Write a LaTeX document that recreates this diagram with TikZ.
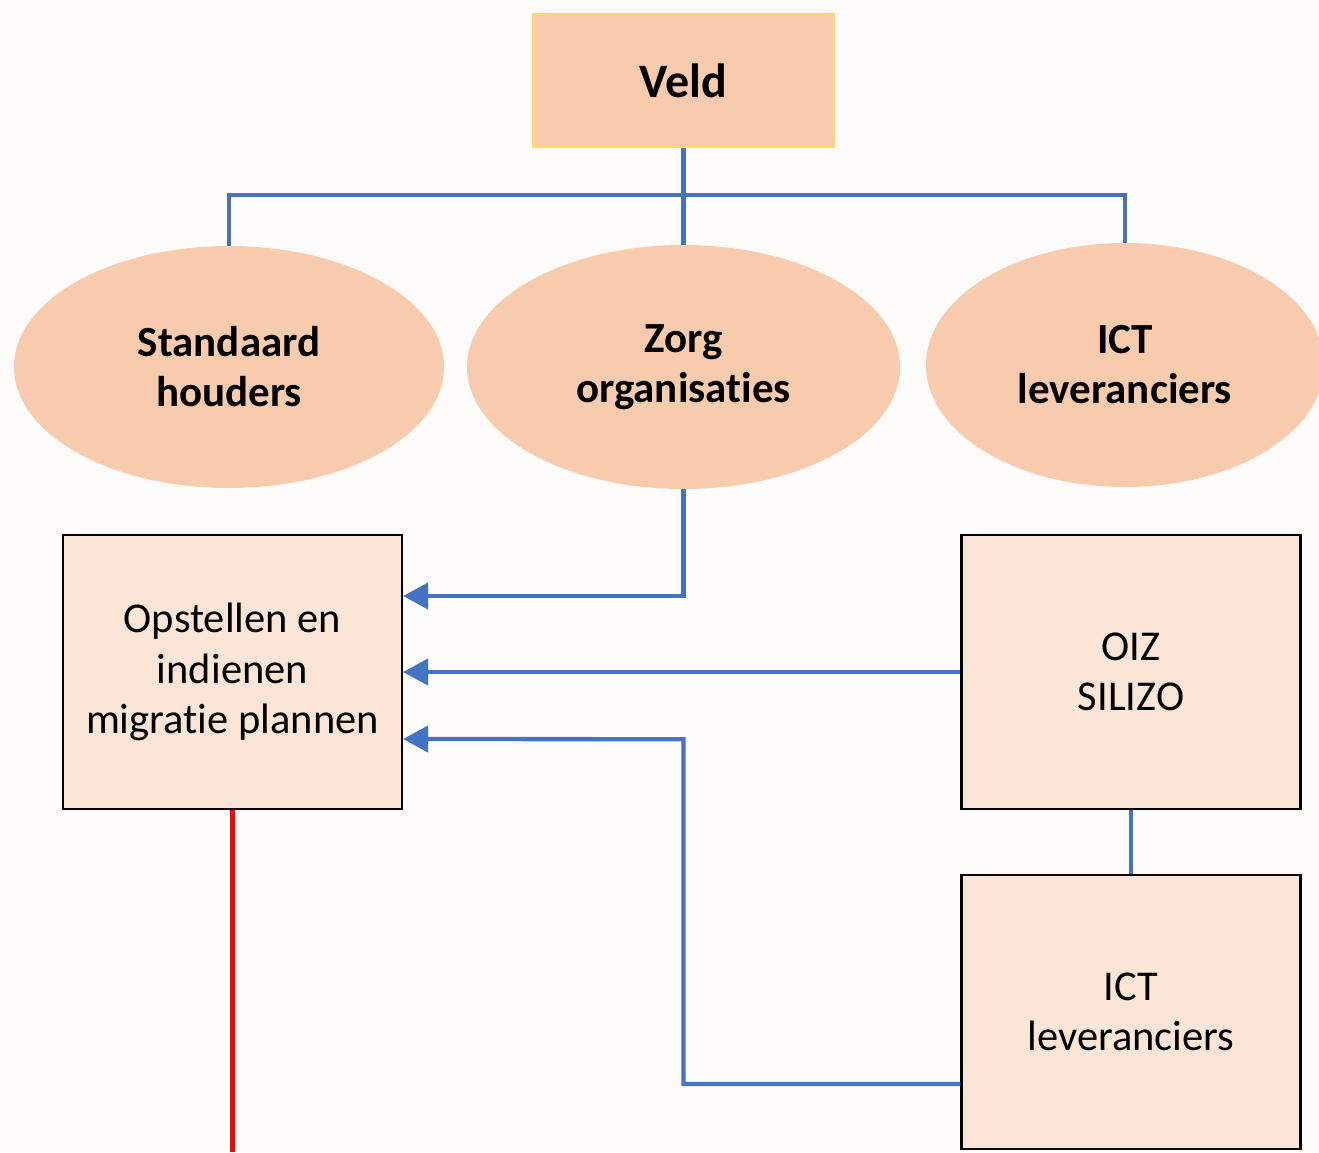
\documentclass[tikz,border=0pt]{standalone}
\usepackage{fontspec}
\setmainfont{Carlito}[Ligatures=NoCommon]
\usetikzlibrary{shapes.geometric,arrows.meta,calc}
\definecolor{bg}{RGB}{253,252,251}
\definecolor{peach}{RGB}{248,203,173}
\definecolor{lightpeach}{RGB}{251,229,214}
\definecolor{gold}{RGB}{255,217,102}
\definecolor{linkblue}{RGB}{68,114,196}
\tikzset{
  topbox/.style={draw=gold,line width=2.5pt,fill=peach,minimum width=301pt,minimum height=133pt,inner sep=0pt,font=\fontsize{48}{56}\selectfont\bfseries},
  party/.style={ellipse,fill=peach,inner sep=0pt,align=center,font=\fontsize{43}{50}\selectfont\bfseries},
  taskbox/.style={draw=black,line width=2.2pt,fill=lightpeach,minimum width=339pt,minimum height=274pt,inner sep=0pt,align=center,font=\fontsize{42.5}{50.5}\selectfont},
  link/.style={draw=linkblue,line width=4.3pt},
  arrowlink/.style={link,-{Triangle[length=25pt,width=26pt]}},
  redlink/.style={draw=red,line width=4.3pt}
}
\begin{document}
\begin{tikzpicture}[x=1pt,y=-1pt]
\fill[bg] (0,0) rectangle (1319,1152);
\useasboundingbox (0,0) rectangle (1319,1152);
\node[topbox] (veld) at (683.5,80.5) {Veld};
\node[party,minimum width=430pt,minimum height=242pt] (std) at (229,367) {Standaard\\houders};
\node[party,minimum width=433pt,minimum height=244pt] (zorg) at (683.5,367) {Zorg\\organisaties};
\node[party,minimum width=398pt,minimum height=244pt] (icte) at (1125,365) {ICT\\leveranciers};
\node[taskbox] (ops) at (232.5,672) {Opstellen en\\indienen\\migratie plannen};
\node[taskbox] (oiz) at (1131,672) {OIZ\\SILIZO};
\node[taskbox] (ictb) at (1131,1012) {ICT\\leveranciers};
\coordinate (bottom) at (232.5,1152);
% tree connectors
\draw[link] (veld.south) -- (zorg.north);
\draw[link] (std.north) -- ++(0,-51) -| (icte.north);
% arrows into the task box
\draw[arrowlink] (zorg.south) |- ($(ops.east)+(0,-76)$);
\draw[arrowlink] (oiz.west) -- (ops.east);
\draw[arrowlink] ($(ictb.west)+(0,72)$) -| ($(zorg.south)+(0,250)$) -- ($(ops.east)+(0,67)$);
\draw[link] (oiz.south) -- (ictb.north);
\draw[redlink] (ops.south) -- (bottom);
\end{tikzpicture}
\end{document}
